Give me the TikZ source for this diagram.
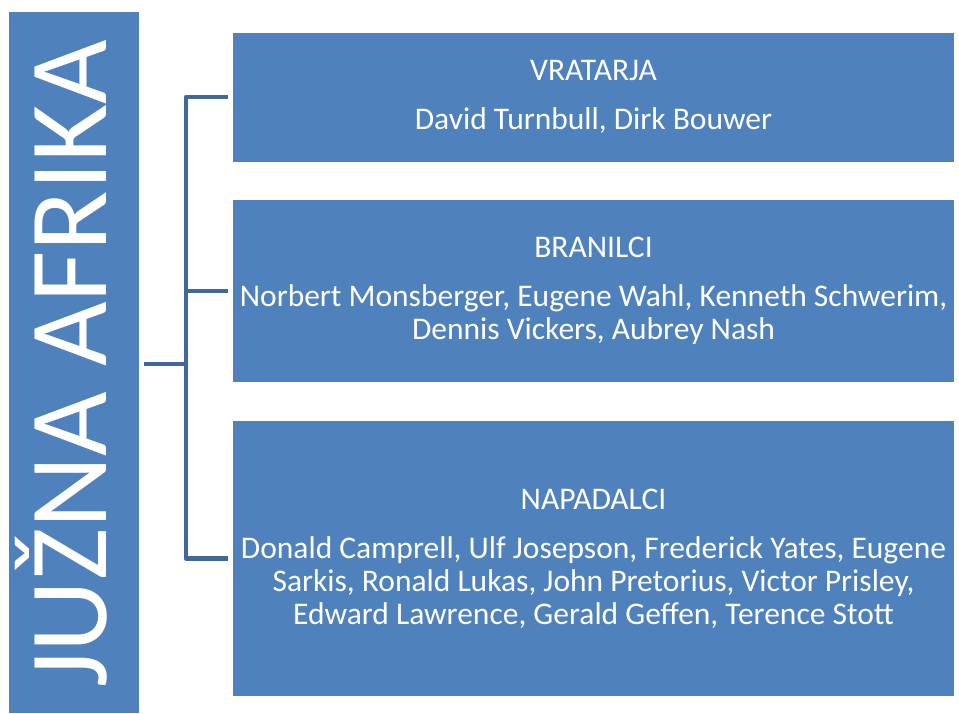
\documentclass[tikz,border=0pt]{standalone}
\usepackage{fontspec}
\setmainfont{Carlito}
\definecolor{boxblue}{RGB}{79,129,189}
\definecolor{linkblue}{RGB}{65,104,152}
\begin{document}
\begin{tikzpicture}[x=1pt,y=-1pt,
  box/.style={fill=boxblue, draw=none, inner sep=0pt, text=white, align=center,
    font=\fontsize{31.5}{33}\selectfont},
  brk/.style={draw=linkblue, line width=4.5pt, line join=round, line cap=butt}]
\useasboundingbox (0,0) rectangle (959,713);
\fill[white] (0,0) rectangle (959,713);
% left title box
\node[fill=boxblue, minimum width=130pt, minimum height=701pt, inner sep=0pt] (main) at (74,362.5) {};
\node[rotate=90, anchor=base, text=white, font=\fontsize{111.5}{111.5}\selectfont] (title) at (106,364) {JUŽNA AFRIKA};
% group boxes
\node[box, minimum width=721pt, minimum height=129pt] (b1) at (593.5,97)
  {VRATARJA\\[16pt]David Turnbull, Dirk Bouwer};
\node[box, minimum width=721pt, minimum height=182pt] (b2) at (593.5,291)
  {BRANILCI\\[16pt]Norbert Monsberger, Eugene Wahl, Kenneth Schwerim,\\Dennis Vickers, Aubrey Nash};
\node[box, minimum width=721pt, minimum height=275pt] (b3) at (593.5,558.5)
  {NAPADALCI\\[16pt]Donald Camprell, Ulf Josepson, Frederick Yates, Eugene\\Sarkis, Ronald Lukas, John Pretorius, Victor Prisley,\\Edward Lawrence, Gerald Geffen, Terence Stott};
% bracket
\coordinate (stem) at (186,364);
\coordinate (t1) at ([xshift=-5pt]b1.west);
\coordinate (t2) at ([xshift=-5pt]b2.west);
\coordinate (t3) at ([xshift=-5pt]b3.west);
\coordinate (tl) at ([xshift=5pt]main.east |- stem);
\draw[brk] (t1) -- (t1 -| stem) -- (t3 -| stem) -- (t3);
\draw[brk] (t2) -- (t2 -| stem);
\draw[brk] (tl) -- (stem);
\end{tikzpicture}
\end{document}
